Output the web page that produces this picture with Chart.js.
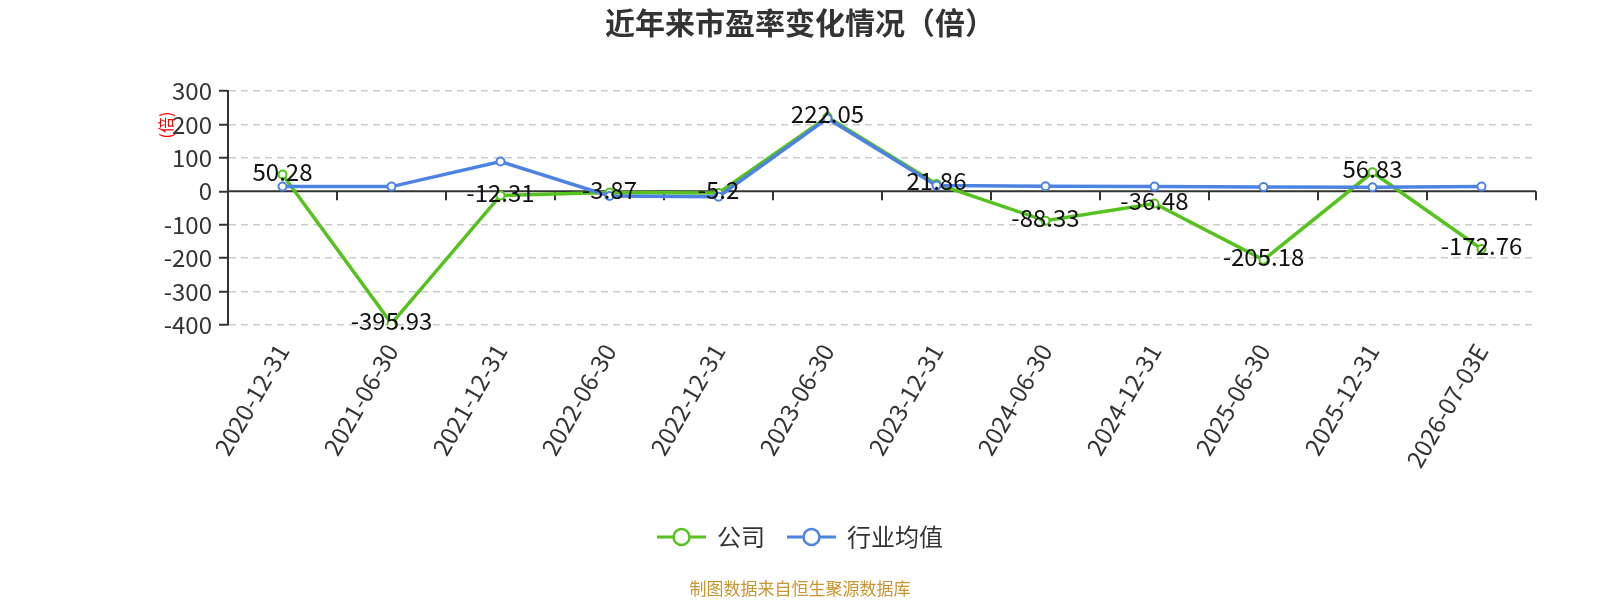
<!DOCTYPE html>
<html><head><meta charset="utf-8">
<script src="https://cdn.jsdelivr.net/npm/chart.js@4.4.0/dist/chart.umd.min.js"></script>
<style>html,body{margin:0;padding:0;background:#fff;} canvas{display:block;}</style>
</head><body>
<div style="width:1600px;height:600px;position:relative"><canvas id="c" width="1600" height="600"></canvas></div>
<script>
const categories = ['2020-12-31','2021-06-30','2021-12-31','2022-06-30','2022-12-31','2023-06-30','2023-12-31','2024-06-30','2024-12-31','2025-06-30','2025-12-31','2026-07-03E'];
const companyPE = [50.28, -395.93, -12.31, -3.87, -5.2, 222.05, 21.86, -88.33, -36.48, -205.18, 56.83, -172.76];
const industryPE = [14, 14, 89, -14, -16, 218, 17, 15, 14, 13, 12, 14];
const yMin = -400, yMax = 300, yStep = 100;
const seriesNames = ['公司', '行业均值'];
const titleText = '近年来市盈率变化情况（倍）';
const unitText = '(倍)';
const footerText = '制图数据来自恒生聚源数据库';

const GREEN = '#56c21e';
const BLUE = '#4e82e2';
const FONT = '"Noto Sans CJK SC", "Noto Sans", sans-serif';

const zeroAxis = {
  id: 'zeroAxis',
  beforeDatasetsDraw(chart) {
    const {ctx, chartArea, scales} = chart;
    const y0 = scales.y.getPixelForValue(0);
    const n = categories.length;
    const w = (chartArea.right - chartArea.left) / n;
    ctx.save();
    ctx.strokeStyle = '#333';
    ctx.lineWidth = 2;
    ctx.beginPath();
    ctx.moveTo(chartArea.left, y0);
    ctx.lineTo(chartArea.right, y0);
    for (let i = 0; i <= n; i++) {
      const x = Math.round(chartArea.left + i * w);
      ctx.moveTo(x, y0);
      ctx.lineTo(x, y0 + 9);
    }
    ctx.stroke();
    ctx.restore();
  }
};

const valueLabels = {
  id: 'valueLabels',
  afterDatasetsDraw(chart) {
    const {ctx} = chart;
    const meta = chart.getDatasetMeta(0);
    ctx.save();
    ctx.font = '24px ' + FONT;
    ctx.fillStyle = '#111';
    ctx.textAlign = 'center';
    ctx.textBaseline = 'middle';
    meta.data.forEach((pt, i) => {
      ctx.fillText(String(companyPE[i]), pt.x, pt.y - 3);
    });
    ctx.restore();
  }
};

const decorations = {
  id: 'decorations',
  afterDraw(chart) {
    const {ctx} = chart;
    ctx.save();
    // title
    ctx.font = 'bold 30px ' + FONT;
    ctx.fillStyle = '#333';
    ctx.textAlign = 'center';
    ctx.textBaseline = 'middle';
    ctx.fillText(titleText, 800, 23);
    // unit
    ctx.save();
    ctx.translate(166, 125);
    ctx.rotate(-Math.PI / 2);
    ctx.font = '16px ' + FONT;
    ctx.fillStyle = '#ff0000';
    ctx.fillText(unitText, 0, 0);
    ctx.restore();
    // legend
    ctx.font = '24px ' + FONT;
    const iconW = 49, gapIT = 11, gapItems = 22;
    const cols = [GREEN, BLUE];
    const widths = seriesNames.map(s => ctx.measureText(s).width);
    const total = seriesNames.length * (iconW + gapIT) + widths.reduce((a, b) => a + b, 0) + gapItems * (seriesNames.length - 1);
    let x = 800 - total / 2;
    const ly = 537;
    seriesNames.forEach((s, i) => {
      ctx.strokeStyle = cols[i];
      ctx.lineWidth = 3;
      ctx.beginPath();
      ctx.moveTo(x, ly);
      ctx.lineTo(x + iconW, ly);
      ctx.stroke();
      ctx.beginPath();
      ctx.arc(x + iconW / 2, ly, 8, 0, Math.PI * 2);
      ctx.fillStyle = '#fff';
      ctx.fill();
      ctx.lineWidth = 2.5;
      ctx.stroke();
      ctx.fillStyle = '#333';
      ctx.textAlign = 'left';
      ctx.fillText(s, x + iconW + gapIT, ly);
      x += iconW + gapIT + widths[i] + gapItems;
    });
    // footer
    ctx.font = '17px ' + FONT;
    ctx.fillStyle = '#c9952f';
    ctx.textAlign = 'center';
    ctx.fillText(footerText, 800, 589);
    ctx.restore();
  }
};

new Chart(document.getElementById('c'), {
  type: 'line',
  data: {
    labels: categories,
    datasets: [
      {
        label: seriesNames[0], data: companyPE, borderColor: GREEN, backgroundColor: '#fff',
        pointBackgroundColor: '#fff', pointBorderColor: GREEN, pointRadius: 4, pointBorderWidth: 2,
        borderWidth: 3.5, tension: 0, order: 1
      },
      {
        label: seriesNames[1], data: industryPE, borderColor: BLUE, backgroundColor: '#fff',
        pointBackgroundColor: '#fff', pointBorderColor: BLUE, pointRadius: 4, pointBorderWidth: 2,
        borderWidth: 3.5, tension: 0, order: 0
      }
    ]
  },
  options: {
    responsive: false,
    animation: false,
    devicePixelRatio: 1,
    layout: { padding: { top: 91, left: 0, right: 64, bottom: 0 } },
    plugins: { legend: { display: false }, title: { display: false }, tooltip: { enabled: false } },
    scales: {
      x: {
        type: 'category',
        offset: true,
        grid: { display: false },
        border: { display: false },
        ticks: { color: '#333', font: { size: 24, family: FONT }, minRotation: 60, maxRotation: 60, padding: 6, autoSkip: false },
        afterFit(scale) { scale.height = 275; }
      },
      y: {
        min: yMin, max: yMax,
        ticks: { stepSize: yStep, color: '#333', font: { size: 24, family: FONT }, padding: 7 },
        grid: {
          color: ctx => (ctx.tick && ctx.tick.value === 0) ? 'rgba(0,0,0,0)' : '#cccccc',
          lineWidth: 1.5,
          tickColor: '#333',
          tickWidth: 2,
          tickLength: 9,
          tickBorderDash: []
        },
        border: { display: true, color: '#333', width: 2, dash: [7, 5] },
        afterFit(scale) { scale.width = 228; }
      }
    }
  },
  plugins: [zeroAxis, valueLabels, decorations]
});
</script>
</body></html>
